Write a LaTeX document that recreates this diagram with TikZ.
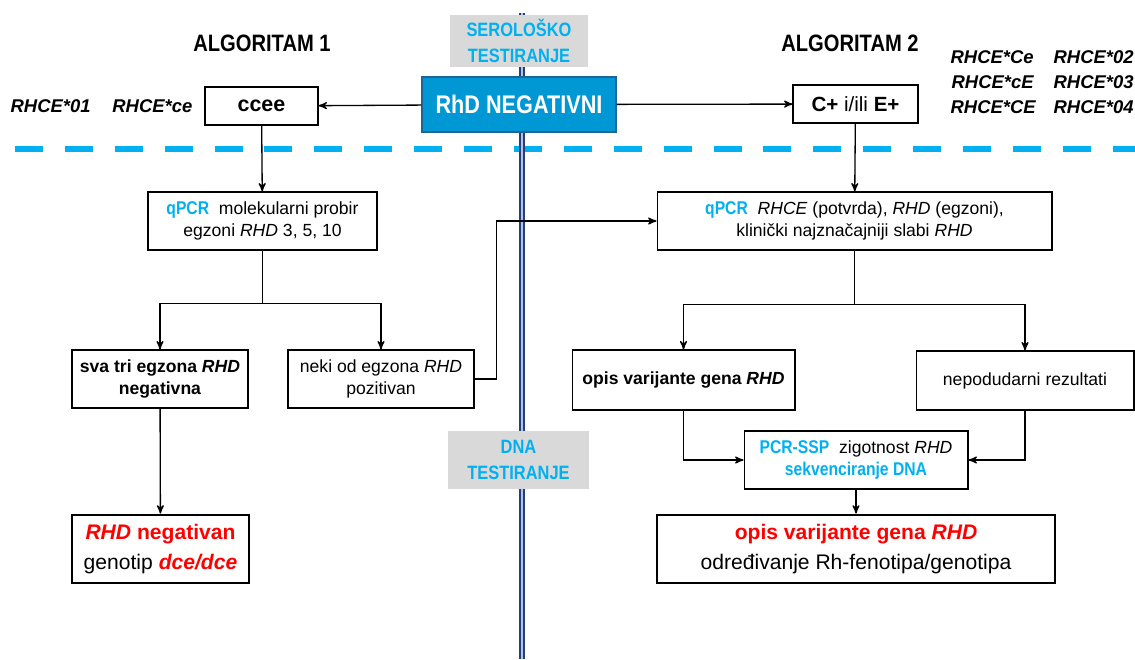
\documentclass[tikz,border=0pt]{standalone}
\usepackage{fontspec}
\setmainfont{Liberation Sans}
\newfontfamily\narrowfont[FakeStretch=0.85]{Liberation Sans}
\usetikzlibrary{positioning}
\usetikzlibrary{arrows,calc}
\definecolor{qcyan}{RGB}{0,176,240}
\definecolor{rhdblue}{RGB}{0,152,212}
\definecolor{rhdedge}{RGB}{30,100,150}
\definecolor{tagfill}{RGB}{217,217,217}
\definecolor{railblue}{RGB}{40,62,120}
\definecolor{raillight}{RGB}{175,195,230}
\newcommand{\method}[1]{{\narrowfont\fontsize{10.5}{12.5}\selectfont\color{qcyan}\bfseries #1}}
\begin{document}
\begin{tikzpicture}[
x=0.02cm, y=-0.02cm,
>=stealth',
every path/.style={line width=0.75pt},
box/.style={rectangle, draw, line width=0.6pt, fill=white, align=center, inner sep=0pt,
  font=\fontsize{10}{12.5}\selectfont},
endbox/.style={box, line width=1.6pt, font=\fontsize{12}{17}\selectfont},
tag/.style={rectangle, fill=tagfill, text=qcyan, align=center, inner sep=0pt,
  font=\narrowfont\fontsize{11}{14.7}\selectfont\bfseries},
title/.style={font=\narrowfont\fontsize{13.5}{16}\selectfont\bfseries},
allele/.style={font=\fontsize{10.5}{12}\selectfont\bfseries\itshape, inner sep=0pt}]
\useasboundingbox (0,0) rectangle (1135,659);

% serology / DNA divide
\draw [qcyan, line width=3.8pt, dash pattern=on 15.9pt off 12.5pt] (15,149) -- (1135,149);
\coordinate (railtop) at (522,13);
\coordinate (railbot) at (522,659);
\draw [draw=railblue, line width=1pt, double=raillight, double distance=1.6pt] (railtop) -- (railbot);

\node [tag, minimum width=2.76cm, minimum height=1.04cm] (sero) at (519,41) {SEROLOŠKO\\TESTIRANJE};
\node [tag, minimum width=2.82cm, minimum height=1.16cm] (dna) at (518.5,460) {DNA\\TESTIRANJE};

\node [title] (alg1) at (262,43) {ALGORITAM 1};
\node [title] (alg2) at (850,43) {ALGORITAM 2};

% start
\node [rectangle, draw=rhdedge, line width=0.8pt, fill=rhdblue, text=white,
  minimum width=3.88cm, minimum height=1.1cm, font=\narrowfont\fontsize{14.5}{16}\selectfont\bfseries]
  (rhd) at (519,104.5) {RhD NEGATIVNI};
\node [box, minimum width=2.26cm, minimum height=0.76cm, font=\fontsize{12.2}{15}\selectfont\bfseries]
  (ccee) at (261.5,106) {ccee} edge [<-] (rhd);
\node [box, minimum width=2.5cm, minimum height=0.76cm, font=\fontsize{11.7}{15}\selectfont]
  (cplus) at (855.5,104) {\textbf{C+} i/ili \textbf{E+}} edge [<-] (rhd);

\node [allele, anchor=west] (a01) at (10,106) {RHCE*01};
\node [allele, anchor=east] (ace) at (193,106) {RHCE*ce};
\node [allele, anchor=west] (aCe) at (950,57) {RHCE*Ce};
\node [allele, anchor=west] (acE) at (951,82) {RHCE*cE};
\node [allele, anchor=west] (aCE) at (950,107) {RHCE*CE};
\node [allele, anchor=west] (a02) at (1053,57) {RHCE*02};
\node [allele, anchor=west] (a03) at (1053,82) {RHCE*03};
\node [allele, anchor=west] (a04) at (1053,107) {RHCE*04};

% algoritam 1
\node [box, minimum width=4.58cm, minimum height=1.16cm] (qpcrL) at (262.5,221)
  {\method{qPCR}\ \ molekularni probir\\egzoni \textit{RHD} 3, 5, 10} edge [<-] (ccee);
\node [box, minimum width=3.52cm, minimum height=1.16cm] (sva) at (160,379)
  {\bfseries sva tri egzona \textit{RHD}\\\bfseries negativna};
\node [box, minimum width=3.72cm, minimum height=1.16cm] (neki) at (381,379)
  {neki od egzona \textit{RHD}\\pozitivan};
\node [endbox, minimum width=3.54cm, minimum height=1.36cm] (finL) at (160.5,549)
  {{\color{red}\bfseries\textit{RHD} negativan}\\genotip {\color{red}\bfseries\itshape dce/dce}} edge [<-] (sva);
\draw (qpcrL.south) -- ++(0,53) coordinate (splitL);
\draw [->] (splitL) -| (sva);
\draw [->] (splitL) -| (neki);

% algoritam 2
\node [box, minimum width=7.9cm, minimum height=1.16cm] (qpcrR) at (854.5,221)
  {\method{qPCR}\ \ \textit{RHCE} (potvrda), \textit{RHD} (egzoni),\\klinički najznačajniji slabi \textit{RHD}}
  edge [<-] (cplus);
\path [->,draw] (neki.east) -- ++(22,0) |- (qpcrR.west);
\node [box, minimum width=4.46cm, minimum height=1.2cm] (opis) at (683.5,380)
  {\bfseries opis varijante gena \textit{RHD}};
\node [box, minimum width=4.36cm, minimum height=1.18cm] (nepod) at (1025,380.5)
  {nepodudarni rezultati};
\draw (qpcrR.south) -- ++(0,54) coordinate (splitR);
\draw [->] (splitR) -| (opis);
\draw [->] (splitR) -| (nepod);
\node [box, minimum width=4.48cm, minimum height=1.16cm] (pcr) at (856,460)
  {\method{PCR-SSP}\ \ zigotnost \textit{RHD}\\\method{sekvenciranje DNA}};
\path [->,draw] (opis.south) |- (pcr.west);
\path [->,draw] (nepod.south) |- (pcr.east);
\node [endbox, minimum width=7.96cm, minimum height=1.36cm] (finR) at (856,549)
  {{\color{red}\bfseries opis varijante gena \textit{RHD}}\\određivanje Rh-fenotipa/genotipa} edge [<-] (pcr);
\end{tikzpicture}
\end{document}
